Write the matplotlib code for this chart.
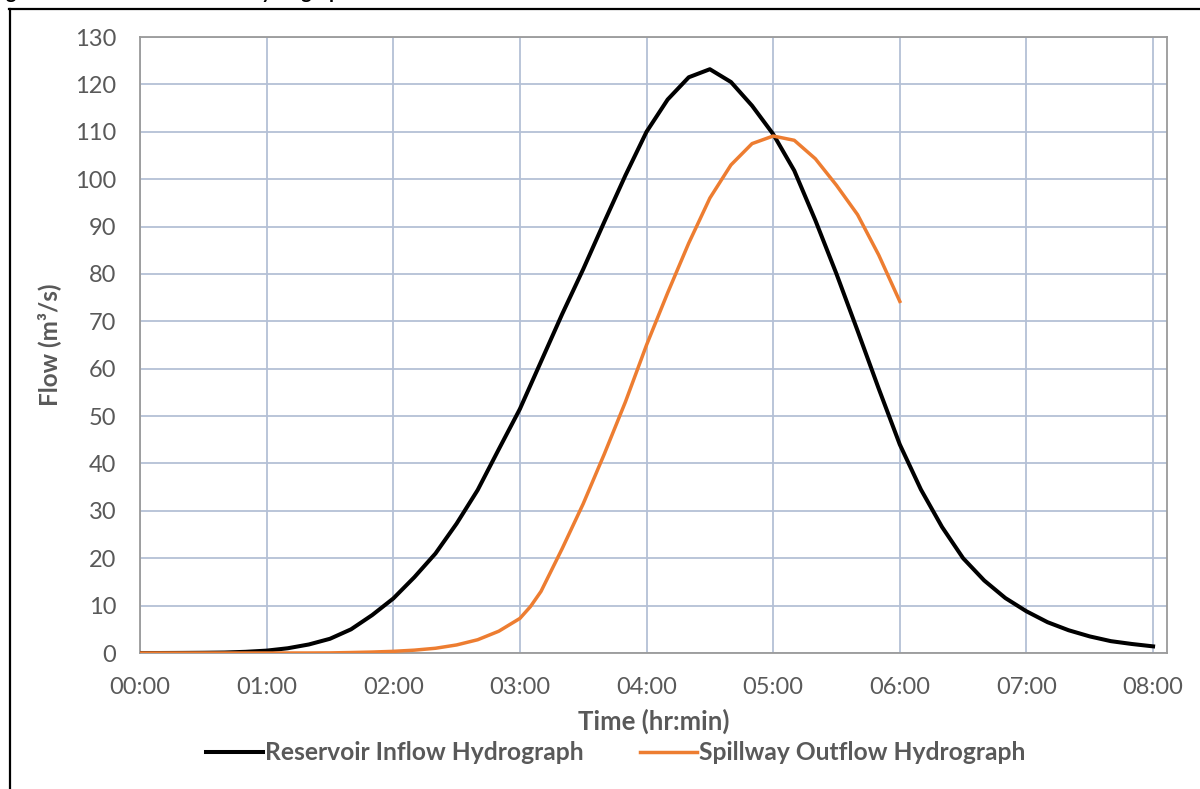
import matplotlib
matplotlib.use("Agg")
import matplotlib.pyplot as plt
from matplotlib.lines import Line2D

plt.rcParams['font.family'] = ['Lato', 'DejaVu Sans']

# times in minutes from start of storm
inflow_min = [0, 10, 20, 30, 40, 50, 60, 70, 80, 90, 100, 110, 120, 130, 140, 150, 160, 170,
              180, 190, 200, 210, 220, 230, 240, 250, 260, 270, 280, 290, 300, 310, 320, 330,
              340, 350, 360, 370, 380, 390, 400, 410, 420, 430, 440, 450, 460, 470, 480]
inflow_q = [0, 0, 0.02, 0.05, 0.1, 0.25, 0.5, 1.0, 1.8, 3.0, 5.0, 8.0, 11.5, 16, 21, 27.3, 34.4, 43,
            51.5, 61.5, 71.5, 81, 91, 100.8, 110, 116.8, 121.5, 123.2, 120.5, 115.5, 109.5, 101.8, 91.3, 80,
            68, 55.8, 44, 34.5, 26.6, 20, 15.3, 11.6, 8.8, 6.5, 4.8, 3.5, 2.5, 1.9, 1.4]

outflow_min = [0, 10, 20, 30, 40, 50, 60, 70, 80, 90, 100, 110, 120, 130, 140, 150, 160, 170,
               180, 185, 190, 200, 210, 220, 230, 240, 250, 260, 270, 280, 290, 300, 310, 320,
               330, 340, 350, 360]
outflow_q = [0, 0, 0, 0, 0, 0, 0, 0, 0, 0.02, 0.1, 0.2, 0.35, 0.6, 1.0, 1.7, 2.8, 4.6,
             7.3, 9.8, 13, 22, 31.5, 42, 53, 65, 76, 86.5, 96, 103, 107.5, 109.1, 108.2, 104.3,
             98.7, 92.5, 84, 74.2]

hour_ticks = [0, 1, 2, 3, 4, 5, 6, 7, 8]
hour_labels = ['00:00', '01:00', '02:00', '03:00', '04:00', '05:00', '06:00', '07:00', '08:00']
flow_ticks = list(range(0, 131, 10))

grey = '#595959'

fig = plt.figure(figsize=(12, 7.89), dpi=100)
ax = fig.add_axes([140 / 1200, 1 - 653 / 789, 1027 / 1200, 616 / 789])

ax.plot([m / 60 for m in inflow_min], inflow_q, color='black', lw=2.9,
        label='Reservoir Inflow Hydrograph', solid_joinstyle='round', zorder=3)
ax.plot([m / 60 for m in outflow_min], outflow_q, color='#ED7D31', lw=2.5,
        label='Spillway Outflow Hydrograph', solid_joinstyle='round', zorder=4)

ax.set_xlim(0, 8.11)
ax.set_ylim(0, 130)
ax.set_xticks(hour_ticks)
ax.set_xticklabels(hour_labels)
ax.set_yticks(flow_ticks)
ax.grid(True, color='#b4c0d6', lw=1.3)
ax.set_axisbelow(True)
ax.tick_params(length=0, labelsize=17, labelcolor=grey)
ax.tick_params(axis='y', pad=17)
ax.tick_params(axis='x', pad=17)
for s in ax.spines.values():
    s.set_color('#9a9a9a')
    s.set_linewidth(1.3)

ax.set_xlabel('Time (hr:min)', fontsize=18.5, fontweight='bold', color=grey, labelpad=8)
ax.set_ylabel('Flow (m³/s)', fontsize=17.5, fontweight='bold', color=grey, labelpad=10)

fig.legend(loc='center', bbox_to_anchor=(616 / 1200, 1 - 753 / 789), ncol=2, frameon=False,
           handlelength=2.3, handletextpad=0.1, columnspacing=2.3,
           prop={'weight': 'bold', 'size': 17.7})
for t in fig.legends[0].get_texts():
    t.set_color(grey)

# page border and the caption running off the top
fig.add_artist(Line2D([9 / 1200, 1], [1 - 8.5 / 789] * 2, color='black', lw=1.6))
fig.add_artist(Line2D([9.5 / 1200] * 2, [0, 1 - 8.5 / 789], color='black', lw=1.6))
fig.text(-10 / 1200, 1 + 1 / 789, 'Figure 3: Inflow and Outflow Hydrographs', fontsize=14,
         fontweight='bold', color='black', va='baseline', ha='left')

fig.savefig('out.png', dpi=100)
